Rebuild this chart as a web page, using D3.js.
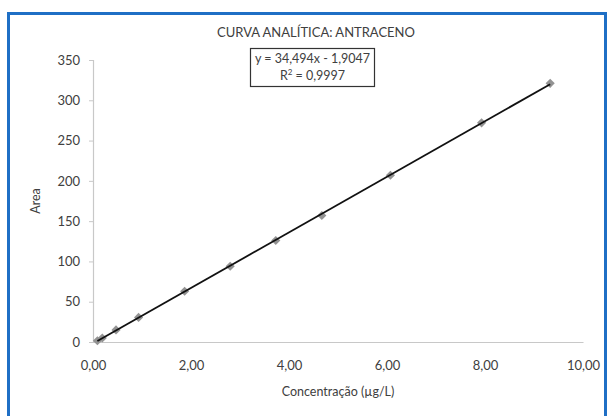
<!DOCTYPE html>
<html>
<head>
<meta charset="utf-8">
<script src="https://cdn.jsdelivr.net/npm/d3@7"></script>
<style>
  html, body { margin: 0; padding: 0; background: #ffffff; }
  svg text { font-family: Lato, "Open Sans", sans-serif; fill: #404040; }
</style>
</head>
<body>
<svg id="chart" width="611" height="416"></svg>
<script>
// Calibration points: concentration (µg/L) and peak area
const concentration = [0.09, 0.19, 0.47, 0.93, 1.87, 2.80, 3.73, 4.67, 6.07, 7.93, 9.33];
const area = [1.5, 5, 15, 30.5, 63, 94, 126, 157, 207, 272, 321];

// Linear fit reported on the chart
const slope = 34.494;
const intercept = -1.9047;
const r2Label = "0,9997";

const xTicks = [0, 2, 4, 6, 8, 10];
const yTicks = [0, 50, 100, 150, 200, 250, 300, 350];

const title = "CURVA ANALÍTICA: ANTRACENO";
const xTitle = "Concentração (µg/L)";
const yTitle = "Area";

const FONT = "Lato, \"Open Sans\", sans-serif";
const svg = d3.select("#chart");

// Outer frame
svg.append("rect")
  .attr("x", 8.5).attr("y", 13.5)
  .attr("width", 597).attr("height", 420)
  .attr("fill", "#ffffff")
  .attr("stroke", "#1f6fc5").attr("stroke-width", 3);

const x = d3.scaleLinear().domain([0, 10]).range([93, 583]);
const y = d3.scaleLinear().domain([0, 350]).range([342, 60]);

const comma = d => d3.format(".2f")(d).replace(".", ",");

// Axes
const xAxis = svg.append("g")
  .attr("transform", `translate(0,${y(0)})`)
  .call(d3.axisBottom(x).tickValues(xTicks).tickFormat(comma).tickSize(0).tickPadding(19));
const yAxis = svg.append("g")
  .attr("transform", `translate(${x(0)},0)`)
  .call(d3.axisLeft(y).tickValues(yTicks).tickFormat(d3.format("d")).tickSize(4).tickPadding(9));

[xAxis, yAxis].forEach(g => {
  g.select(".domain").attr("stroke", "#c8c8c8").attr("stroke-width", 1.2);
  g.selectAll(".tick line").attr("stroke", "#c8c8c8");
  g.selectAll(".tick text").attr("font-size", 13).attr("fill", "#404040")
    .attr("font-family", FONT);
});

// Markers: grey diamonds
const diamond = d3.symbol().type(d3.symbolSquare).size(42);
svg.append("g").selectAll("path")
  .data(concentration.map((c, i) => [c, area[i]]))
  .join("path")
  .attr("d", diamond)
  .attr("transform", d => `translate(${x(d[0])},${y(d[1])}) rotate(45)`)
  .attr("fill", "#939393");

// Trendline across the data range
const xMin = d3.min(concentration), xMax = d3.max(concentration);
svg.append("line")
  .attr("x1", x(xMin)).attr("y1", y(slope * xMin + intercept))
  .attr("x2", x(xMax)).attr("y2", y(slope * xMax + intercept))
  .attr("stroke", "#111111").attr("stroke-width", 1.8);

// Title
svg.append("text")
  .attr("x", 316).attr("y", 37)
  .attr("text-anchor", "middle")
  .attr("font-size", 13)
  .text(title);

// Equation box
const eqG = svg.append("g");
eqG.append("rect")
  .attr("x", 250.5).attr("y", 48.5)
  .attr("width", 124).attr("height", 38)
  .attr("fill", "#ffffff").attr("stroke", "#333333").attr("stroke-width", 1.2);
const fmt = v => String(v).replace(".", ",");
eqG.append("text")
  .attr("x", 312.5).attr("y", 63)
  .attr("text-anchor", "middle").attr("font-size", 12.5)
  .text(`y = ${fmt(slope)}x - ${fmt(-intercept)}`);
const r2 = eqG.append("text")
  .attr("x", 312.5).attr("y", 80)
  .attr("text-anchor", "middle").attr("font-size", 12.5);
r2.append("tspan").text("R");
r2.append("tspan").attr("font-size", 8).attr("dy", -5).text("2");
r2.append("tspan").attr("dy", 5).text(` = ${r2Label}`);

// Axis titles
svg.append("text")
  .attr("x", 338).attr("y", 396)
  .attr("text-anchor", "middle").attr("font-size", 12.5)
  .text(xTitle);
svg.append("text")
  .attr("transform", `translate(40,${(y(0) + y(350)) / 2}) rotate(-90)`)
  .attr("text-anchor", "middle").attr("font-size", 12.5)
  .text(yTitle);
</script>
</body>
</html>
